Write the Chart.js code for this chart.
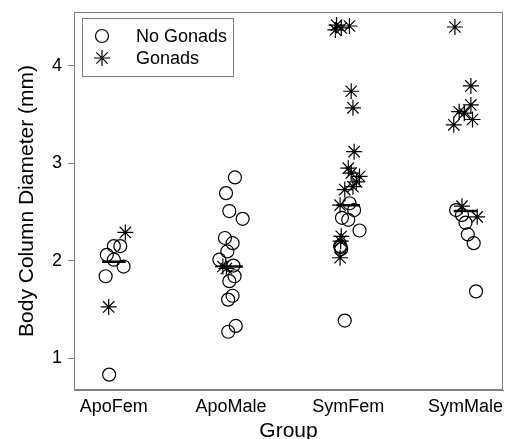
<!DOCTYPE html>
<html>
<head>
<meta charset="utf-8">
<script src="https://cdn.jsdelivr.net/npm/chart.js@4.4.1/dist/chart.umd.min.js"></script>
<style>
  body { margin: 0; background: #fff; }
</style>
</head>
<body>
<canvas id="chart" width="506" height="439"></canvas>
<script>
// Groups on the x axis (positions 1..4)
const groups = ['ApoFem', 'ApoMale', 'SymFem', 'SymMale'];
const yTicks = [1, 2, 3, 4];

// No Gonads (open circles), jittered x position and diameter
const noGonadsX = [
  1.00, 1.055, 0.94, 1.00, 1.083, 0.93, 0.96,
  2.033, 1.957, 1.985, 2.099, 1.948, 2.013, 1.968, 1.90, 2.02, 2.03, 1.985, 2.013, 1.975, 2.04, 1.976,
  3.01, 3.05, 2.946, 3.00, 3.096, 2.93, 2.94, 2.935, 2.97,
  3.92, 3.97, 4.00, 4.02, 4.07, 4.09
];
const noGonadsY = [
  2.15, 2.15, 2.06, 2.01, 1.94, 1.84, 0.83,
  2.855, 2.694, 2.51, 2.43, 2.233, 2.18, 2.095, 2.01, 1.95, 1.84, 1.79, 1.64, 1.60, 1.33, 1.27,
  2.59, 2.52, 2.44, 2.42, 2.31, 2.15, 2.12, 2.14, 1.385,
  2.52, 2.47, 2.39, 2.27, 2.18, 1.685
];

// Gonads (asterisks)
const gonadsX = [
  1.098, 0.956,
  1.93, 1.96,
  2.90, 2.94, 3.01, 2.89, 3.025, 3.04, 3.05, 3.00, 3.025, 3.096, 3.07, 3.04, 2.97, 2.93, 2.94, 2.935, 2.93,
  3.91, 4.046, 4.046, 3.946, 3.99, 4.06, 3.90, 3.97, 4.10
];
const gonadsY = [
  2.29, 1.525,
  1.94, 1.92,
  4.42, 4.39, 4.41, 4.37, 3.74, 3.57, 3.12, 2.95, 2.90, 2.865, 2.81, 2.76, 2.73, 2.57, 2.25, 2.20, 2.03,
  4.40, 3.795, 3.60, 3.53, 3.515, 3.45, 3.395, 2.56, 2.45
];

// Median bar per group
const medians = [1.99, 1.94, 2.57, 2.51];

const toPoints = (xs, ys) => xs.map((x, i) => ({ x: x, y: ys[i] }));

const medianPoints = [];
medians.forEach((m, i) => {
  medianPoints.push({ x: i + 1 - 0.1, y: m });
  medianPoints.push({ x: i + 1 + 0.1, y: m });
  medianPoints.push({ x: i + 1.5, y: null });
});

const FONT = 'Liberation Sans, Arial, sans-serif';

// Box around the plot area
const frame = {
  id: 'frame',
  afterDraw(chart) {
    const a = chart.chartArea;
    const ctx = chart.ctx;
    ctx.save();
    ctx.strokeStyle = '#808080';
    ctx.lineWidth = 1;
    ctx.strokeRect(a.left + 0.5, a.top + 0.5, a.right - a.left - 1, a.bottom - a.top - 1);
    ctx.restore();
  }
};

// Legend box in the top-left corner of the plot
const insetLegend = {
  id: 'insetLegend',
  afterDraw(chart) {
    const a = chart.chartArea;
    const ctx = chart.ctx;
    const left = a.left + 8, top = a.top + 6;
    ctx.save();
    ctx.strokeStyle = '#808080';
    ctx.lineWidth = 1;
    ctx.strokeRect(left + 0.5, top + 0.5, 151, 58);
    const items = [chart.data.datasets[0], chart.data.datasets[1]];
    items.forEach((ds, i) => {
      const y = top + 18 + i * 22;
      ctx.strokeStyle = '#000';
      ctx.fillStyle = 'rgba(0,0,0,0)';
      ctx.lineWidth = ds.borderWidth;
      Chart.helpers.drawPoint(ctx, { pointStyle: ds.pointStyle, radius: ds.pointRadius, rotation: 0, borderWidth: ds.borderWidth }, left + 20, y);
      ctx.fillStyle = '#000';
      ctx.font = '18px ' + FONT;
      ctx.textBaseline = 'middle';
      ctx.fillText(ds.label, left + 54, y + 1);
    });
    ctx.restore();
  }
};

new Chart(document.getElementById('chart'), {
  type: 'scatter',
  data: {
    datasets: [
      {
        label: 'No Gonads',
        data: toPoints(noGonadsX, noGonadsY),
        pointStyle: 'circle',
        pointRadius: 6.5,
        borderColor: '#000',
        backgroundColor: 'rgba(0,0,0,0)',
        borderWidth: 1.2
      },
      {
        label: 'Gonads',
        data: toPoints(gonadsX, gonadsY),
        pointStyle: 'star',
        pointRadius: 8,
        borderColor: '#000',
        backgroundColor: 'rgba(0,0,0,0)',
        borderWidth: 1.2
      },
      {
        type: 'line',
        label: 'Median',
        data: medianPoints,
        borderColor: '#000',
        borderWidth: 2.5,
        pointRadius: 0,
        spanGaps: false
      }
    ]
  },
  options: {
    responsive: false,
    animation: false,
    devicePixelRatio: 1,
    layout: { autoPadding: false, padding: { top: 12, right: 3, left: 0, bottom: 0 } },
    plugins: {
      legend: { display: false },
      tooltip: { enabled: false }
    },
    scales: {
      x: {
        type: 'linear',
        min: 0.66,
        max: 4.32,
        afterBuildTicks: (scale) => { scale.ticks = groups.map((g, i) => ({ value: i + 1 })); },
        afterFit: (scale) => {
          scale.height = 49;
          scale.paddingLeft = 0;
          scale.paddingRight = 0;
        },
        grid: { display: false, drawTicks: false },
        border: { color: '#808080' },
        ticks: {
          color: '#000',
          font: { size: 18, family: FONT },
          padding: 6,
          maxRotation: 0,
          autoSkip: false,
          callback: (v) => groups[v - 1]
        },
        title: {
          display: true,
          text: 'Group',
          color: '#000',
          font: { size: 21, family: FONT },
          padding: { top: 0, bottom: -5 }
        }
      },
      y: {
        min: 0.672,
        max: 4.554,
        afterBuildTicks: (scale) => { scale.ticks = yTicks.map(v => ({ value: v })); },
        afterFit: (scale) => {
          scale.width = 74;
          scale.paddingTop = 0;
          scale.paddingBottom = 0;
        },
        grid: { drawOnChartArea: false, tickLength: 6, color: '#808080' },
        border: { color: '#808080' },
        ticks: {
          color: '#000',
          font: { size: 18, family: FONT },
          padding: 6
        },
        title: {
          display: true,
          text: 'Body Column Diameter (mm)',
          color: '#000',
          font: { size: 21, family: FONT },
          padding: { top: 15, bottom: 0 }
        }
      }
    }
  },
  plugins: [frame, insetLegend]
});
</script>
</body>
</html>
